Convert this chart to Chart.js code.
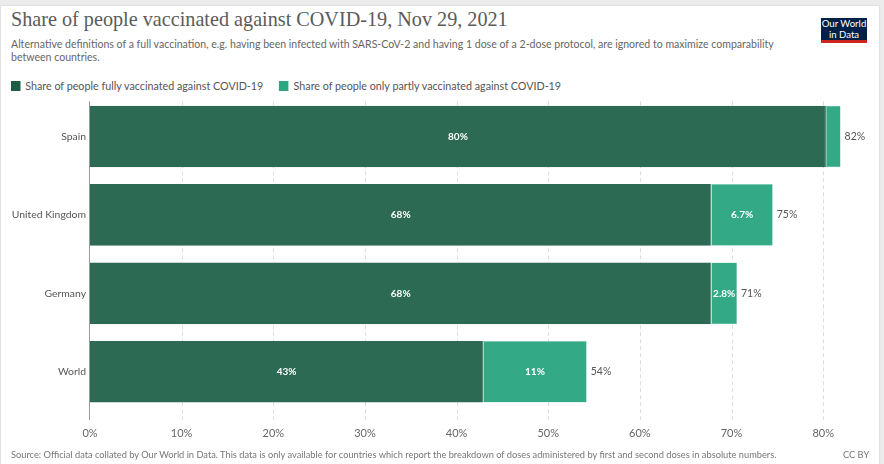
<!DOCTYPE html>
<html>
<head>
<meta charset="utf-8">
<script src="https://cdn.jsdelivr.net/npm/chart.js@4/dist/chart.umd.min.js"></script>
<style>
  html, body { margin: 0; padding: 0; }
  body { width: 884px; height: 464px; background: #ececec; overflow: hidden; font-family: Lato, "Open Sans", sans-serif; }
  #card { position: absolute; left: 1px; top: 6px; width: 878px; height: 460px; background: #fff; box-shadow: 0 0 2px rgba(0,0,0,0.15); }
  #title { position: absolute; left: 11px; top: 8px; font-family: "Liberation Serif", serif; font-size: 20.2px; color: #5b5b5b; white-space: nowrap; }
  .narrow { transform-origin: 0 0; }
  #subtitle { position: absolute; left: 11px; top: 37px; width: 850px; font-size: 11.3px; line-height: 13px; color: #666; transform: scaleX(0.935); }
  #logo { position: absolute; left: 821px; top: 18px; width: 46px; height: 21px; padding-top: 1px; background: #002147; border-bottom: 3px solid #ce261e; color: #fff; font-size: 9.6px; line-height: 10.5px; text-align: center; }
  #legend { position: absolute; left: 11px; top: 79px; font-size: 11.3px; color: #555; white-space: nowrap; transform: scaleX(0.95); }
  .lg { display: inline-block; margin-right: 14px; }
  .sw { display: inline-block; width: 10px; height: 10px; vertical-align: -1px; margin-right: 5px; }
  #source { position: absolute; left: 11px; top: 448px; font-size: 10.3px; color: #777; white-space: nowrap; transform: scaleX(0.9); }
  #ccby { position: absolute; left: 843px; top: 448px; font-size: 10.3px; color: #777; transform: scaleX(0.9); }
  #wrap { position: absolute; left: 0; top: 87px; width: 884px; height: 364px; }
</style>
</head>
<body>
<div id="card"></div>
<div id="title">Share of people vaccinated against COVID-19, Nov 29, 2021</div>
<div id="subtitle" class="narrow">Alternative definitions of a full vaccination, e.g. having been infected with SARS-CoV-2 and having 1 dose of a 2-dose protocol, are ignored to maximize comparability between countries.</div>
<div id="logo">Our World<br>in Data</div>
<div id="legend" class="narrow">
  <span class="lg"><span class="sw" style="background:#1d5c45"></span>Share of people fully vaccinated against COVID-19</span>
  <span class="lg"><span class="sw" style="background:#2ba680"></span>Share of people only partly vaccinated against COVID-19</span>
</div>
<div id="wrap"><canvas id="chart"></canvas></div>
<div id="source" class="narrow">Source: Official data collated by Our World in Data. This data is only available for countries which report the breakdown of doses administered by first and second doses in absolute numbers.</div>
<div id="ccby" class="narrow">CC BY</div>

<script>
// data
const countries = ["Spain", "United Kingdom", "Germany", "World"];
const fullyVaccinated = [80.3, 67.8, 67.8, 42.9];
const partlyVaccinated = [1.6, 6.7, 2.8, 11.3];
const fullyLabels = ["80%", "68%", "68%", "43%"];
const partlyLabels = ["", "6.7%", "2.8%", "11%"];
const totalLabels = ["82%", "75%", "71%", "54%"];
const xTicks = [0, 10, 20, 30, 40, 50, 60, 70, 80];

const C = { dark: "#2c6a54", light: "#33a986", text: "#555", grid: "#dddddd" };

// dashed vertical grid lines that run a little past the plot bottom, like the original
const gridPlugin = {
  id: "owidGrid",
  beforeDatasetsDraw(chart) {
    const { ctx, chartArea, scales } = chart;
    ctx.save();
    ctx.strokeStyle = C.grid;
    ctx.lineWidth = 1;
    ctx.setLineDash([4, 3]);
    xTicks.forEach(v => {
      if (v === 0) return;
      const x = Math.round(scales.x.getPixelForValue(v)) + 0.5;
      ctx.beginPath();
      ctx.moveTo(x, chartArea.top + 4);
      ctx.lineTo(x, chartArea.bottom + 9);
      ctx.stroke();
    });
    ctx.setLineDash([]);
    ctx.strokeStyle = "#999";
    const x0 = Math.round(scales.x.getPixelForValue(0)) - 0.5;
    ctx.beginPath();
    ctx.moveTo(x0, chartArea.top + 4);
    ctx.lineTo(x0, chartArea.bottom + 9);
    ctx.stroke();
    ctx.restore();
  }
};

// value labels inside segments and totals after each bar
const labelPlugin = {
  id: "owidLabels",
  afterDatasetsDraw(chart) {
    const { ctx } = chart;
    ctx.save();
    ctx.textBaseline = "middle";
    const m0 = chart.getDatasetMeta(0);
    const m1 = chart.getDatasetMeta(1);
    countries.forEach((_, i) => {
      const a = m0.data[i], b = m1.data[i];
      ctx.font = "bold 10px Lato, sans-serif";
      ctx.fillStyle = "#fff";
      ctx.textAlign = "center";
      ctx.fillText(fullyLabels[i], (a.base + a.x) / 2, a.y);
      if (partlyLabels[i]) ctx.fillText(partlyLabels[i], (b.base + b.x) / 2, b.y);
      ctx.font = "10.5px Lato, sans-serif";
      ctx.fillStyle = C.text;
      ctx.textAlign = "left";
      ctx.fillText(totalLabels[i], b.x + 4, b.y);
    });
    ctx.restore();
  }
};

new Chart(document.getElementById("chart"), {
  type: "bar",
  data: {
    labels: countries,
    datasets: [
      { label: "Share of people fully vaccinated against COVID-19", data: fullyVaccinated, backgroundColor: C.dark, borderColor: "#43786a", borderWidth: { right: 1 }, borderSkipped: false },
      { label: "Share of people only partly vaccinated against COVID-19", data: partlyVaccinated, backgroundColor: C.light, borderColor: "rgba(120,200,170,0.8)", borderWidth: 0.5, borderSkipped: false }
    ]
  },
  plugins: [gridPlugin, labelPlugin],
  options: {
    indexAxis: "y",
    responsive: true, maintainAspectRatio: false,
    animation: false,
    layout: { padding: { top: 10, right: 15, bottom: 0, left: 0 } },
    categoryPercentage: 0.785, barPercentage: 1,
    plugins: { legend: { display: false }, tooltip: { enabled: false } },
    scales: {
      x: {
        stacked: true, min: 0, max: 85,
        grid: { display: false, drawTicks: false }, border: { display: false },
        afterBuildTicks: s => { s.ticks = xTicks.map(v => ({ value: v })); },
        afterFit: s => { s.height = 40; },
        ticks: { callback: v => v + "%", color: "#666", padding: 16, font: { family: "Lato", size: 11 }, maxRotation: 0 }
      },
      y: {
        stacked: true,
        grid: { display: false, drawTicks: false }, border: { display: false },
        afterFit: s => { s.width = 90; },
        ticks: { color: C.text, padding: 4, font: { family: "Lato", size: 10.4 } }
      }
    }
  }
});
</script>
</body>
</html>
